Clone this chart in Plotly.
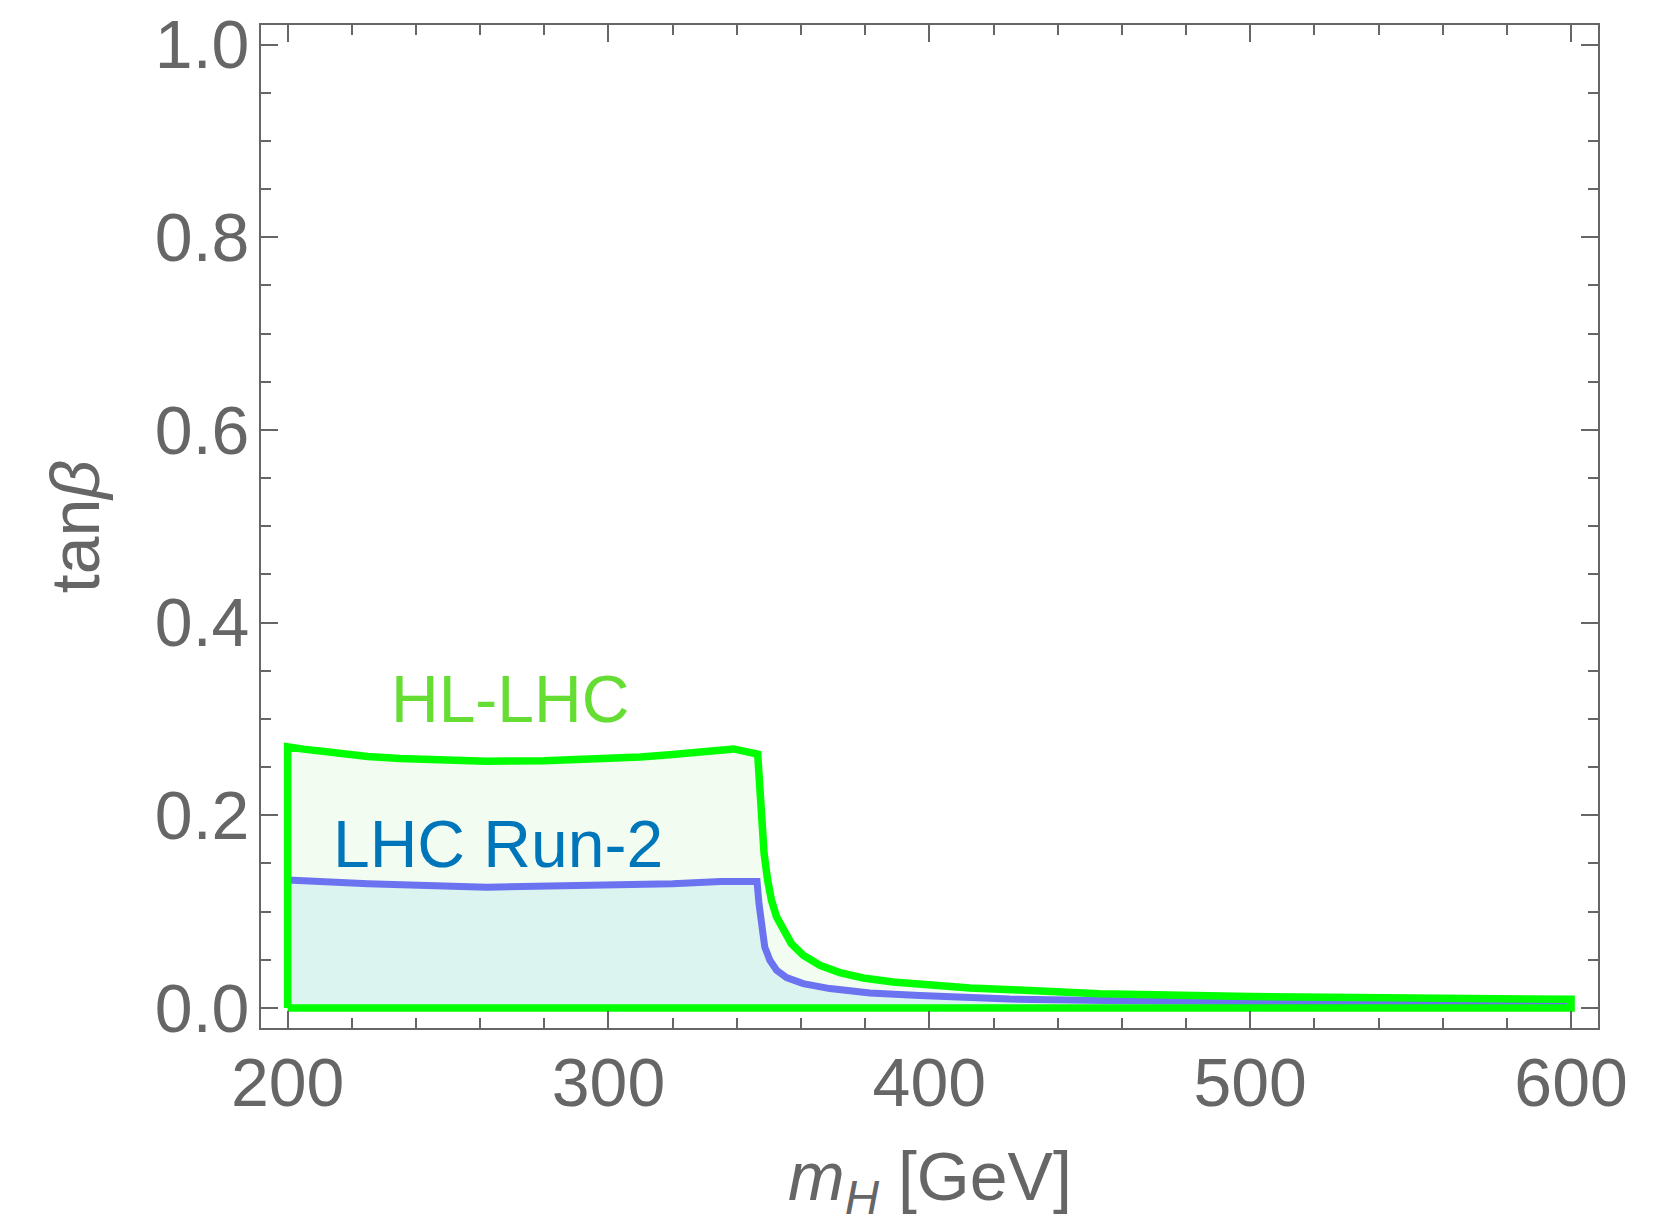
import plotly.graph_objects as go

# ---- data ----
hl_mH = [200, 205, 215, 225, 235, 245, 262, 280, 298, 310, 320, 330, 339, 346.5,
         347.2, 347.7, 348.5, 349.6, 350.8, 352.4, 354.4, 357.0, 360.7, 365.9,
         372.1, 379.4, 388.7, 399.1, 412.7, 428.0, 453.0, 500.0, 550.0, 600.0]
hl_tanb = [0.271, 0.2687, 0.2645, 0.2611, 0.2590, 0.2575, 0.2561, 0.2566, 0.2585, 0.2605, 0.2630, 0.2658, 0.2689, 0.2635,
           0.2294, 0.1948, 0.1603, 0.1326, 0.1118, 0.0945, 0.0807, 0.0668, 0.0547, 0.0443,
           0.0367, 0.0311, 0.0270, 0.0236, 0.0208, 0.0186, 0.0148, 0.0118, 0.0102, 0.0090]

run2_mH = [200, 225, 262, 298, 320, 335, 346.3,
           346.9, 347.7, 348.7, 350.3, 352.4, 355.5, 360.7, 369.0, 381.5, 397.0, 425.0,
           460.0, 500.0, 550.0, 600.0]
run2_tanb = [0.1329, 0.1290, 0.1253, 0.1265, 0.1290, 0.1312, 0.1312,
             0.1084, 0.0841, 0.0633, 0.0495, 0.0391, 0.0316, 0.0253, 0.0201, 0.0156, 0.0129, 0.0092,
             0.0075, 0.0062, 0.0055, 0.0050]

x_ticks = [200, 300, 400, 500, 600]
y_ticks = [0.0, 0.2, 0.4, 0.6, 0.8, 1.0]
y_tick_text = ["0.0", "0.2", "0.4", "0.6", "0.8", "1.0"]

labels = ["HL-LHC", "LHC Run-2"]
label_pos = [(269.4, 0.3205), (265.6, 0.1700)]
x_title = "<i>m</i><sub><i>H</i></sub> [GeV]"
y_title = "tan<i>β</i>"

# ---- styles ----
GREEN = "#00FF00"
BLUE = "#6B73F0"
GREEN_FILL = "#F2FCF0"
BLUE_FILL = "#DCF4EF"
AXIS = "#666666"
FONT = "Liberation Sans"

fig = go.Figure()

# fills
fig.add_trace(go.Scatter(x=hl_mH, y=hl_tanb, mode="lines", line=dict(width=0),
                         fill="tozeroy", fillcolor=GREEN_FILL, hoverinfo="skip",
                         showlegend=False))
fig.add_trace(go.Scatter(x=run2_mH, y=run2_tanb, mode="lines", line=dict(width=0),
                         fill="tozeroy", fillcolor=BLUE_FILL, hoverinfo="skip",
                         showlegend=False))
# boundary lines
fig.add_trace(go.Scatter(x=run2_mH, y=run2_tanb, mode="lines",
                         line=dict(color=BLUE, width=7), showlegend=False))
fig.add_trace(go.Scatter(x=[hl_mH[0]] + hl_mH + [hl_mH[-1], hl_mH[0]],
                         y=[0] + hl_tanb + [0, 0], mode="lines",
                         line=dict(color=GREEN, width=7.5), showlegend=False))

fig.add_annotation(x=label_pos[0][0], y=label_pos[0][1], text=labels[0],
                   showarrow=False, xanchor="center", yanchor="middle",
                   font=dict(family=FONT, size=66, color="#66DD33"))
fig.add_annotation(x=label_pos[1][0], y=label_pos[1][1], text=labels[1],
                   showarrow=False, xanchor="center", yanchor="middle",
                   font=dict(family=FONT, size=66, color="#0076BA"))

# x-axis title as a paper-anchored annotation (bottom of the figure)
fig.add_annotation(x=0.5, xref="paper", y=-0.1994, yref="paper", text=x_title,
                   showarrow=False, xanchor="center", yanchor="bottom", yshift=2,
                   font=dict(family=FONT, size=68, color=AXIS))

axis_common = dict(
    showgrid=False, zeroline=False, showline=True, linecolor=AXIS, linewidth=2,
    mirror="allticks", ticks="inside", ticklen=17, tickwidth=2, tickcolor=AXIS,
    tickfont=dict(family=FONT, size=68, color=AXIS), automargin=False,
)

fig.update_layout(
    width=1670, height=1228,
    margin=dict(l=261, r=72, t=25, b=200, pad=0),
    paper_bgcolor="white", plot_bgcolor="white",
    font=dict(family=FONT, color=AXIS),
    xaxis=dict(range=[191.7, 608.4], tickvals=x_ticks,
               minor=dict(ticks="inside", ticklen=10, tickwidth=2, tickcolor=AXIS, dtick=20, tick0=0),
               ticklabelstandoff=-6,
               **axis_common),
    yaxis=dict(range=[-0.0208, 1.0204], tickvals=y_ticks, ticktext=y_tick_text,
               minor=dict(ticks="inside", ticklen=10, tickwidth=2, tickcolor=AXIS, dtick=0.05, tick0=0),
               ticklabelstandoff=-4,
               title=dict(text=y_title, font=dict(family=FONT, size=68, color=AXIS), standoff=33),
               **axis_common),
)

fig.write_html("out.html")
